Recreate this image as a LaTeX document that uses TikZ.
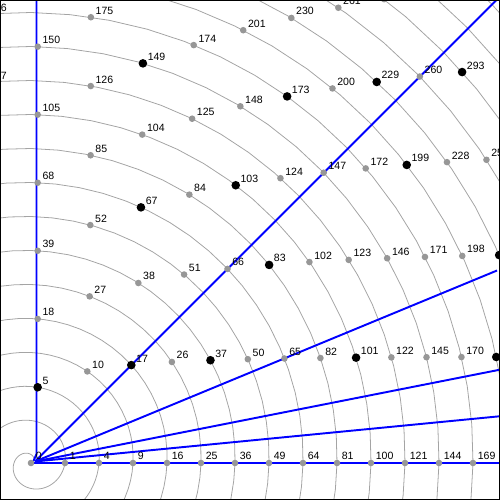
\documentclass[tikz,border=0pt]{standalone}
\usepackage{fontspec}
\setmainfont{Liberation Sans}
\usetikzlibrary{calc}
\definecolor{dotgray}{HTML}{979797}
\definecolor{spiralgray}{HTML}{A4A4A4}

\newif\ifisprime
\newcommand\testprime[1]{%
  \global\isprimetrue
  \ifnum#1<2 \global\isprimefalse\fi
  \foreach \dv in {2,...,19}{%
    \ifnum\dv<#1
      \pgfmathtruncatemacro\remdr{mod(#1,\dv)}%
      \ifnum\remdr=0 \global\isprimefalse\fi
    \fi}%
}

\begin{document}
\begin{tikzpicture}[
  spiral/.style={spiralgray, line width=0.45pt},
  ray/.style={blue, line width=1.1pt},
  pdot/.style={circle, fill=black, inner sep=0pt, minimum size=1.72mm},
  cdot/.style={circle, fill=dotgray, inner sep=0pt, minimum size=1.32mm},
  num/.style={font=\fontsize{6}{7}\selectfont, inner sep=0pt, anchor=base west}
]
\useasboundingbox (0,0) rectangle (10,10);
\begin{scope}
\clip (0,0) rectangle (10,10);
\coordinate (O) at (0.62,0.74);
\coordinate (P0) at (0.70,0.77);
% Archimedean spiral through all numbers
\draw[spiral] plot[domain=0:7020, samples=1405, variable=\t]
  ({0.62+0.68*\t/360*cos(\t)},{0.74+0.68*\t/360*sin(\t)});
% rays
\draw[ray] (O) -- ++(0:10);
\draw[ray] (P0) -- ++(5.56:10);
\draw[ray] (P0) -- ++(11.17:10);
\draw[ray] (P0) -- ++(22.46:10);
\draw[ray] (P0) -- ++(45:14);
\draw[ray] (0.67,0.78) -- (0.73,0.92) -- (0.73,10.1);
% numbers: black = prime, only those that show in the frame
\foreach \n in {0,...,380}{
  \pgfmathsetmacro\rad{0.68*sqrt(\n)}
  \pgfmathsetmacro\ang{360*sqrt(\n)}
  \pgfmathsetmacro\px{0.62+\rad*cos(\ang)}
  \pgfmathsetmacro\py{0.74+\rad*sin(\ang)}
  \pgfmathtruncatemacro\nd{\n<10 ? 1 : (\n<100 ? 2 : 3)}
  \pgfmathtruncatemacro\inside{and(and(\px+0.09+0.117*\nd>0.1,\px<10),and(\py>-0.2,\py<10.1))}
  \ifnum\inside=1
    \testprime{\n}
    \ifisprime
      \node[pdot] (p\n) at (\px,\py) {};
    \else
      \node[cdot] (p\n) at (\px,\py) {};
    \fi
    \node[num] (l\n) at ($(p\n)+(0.09,0.06)$) {\n};
  \fi
}
\end{scope}
\draw[line width=0.6pt] (0.01,0.01) rectangle (9.99,9.99);
\end{tikzpicture}
\end{document}
